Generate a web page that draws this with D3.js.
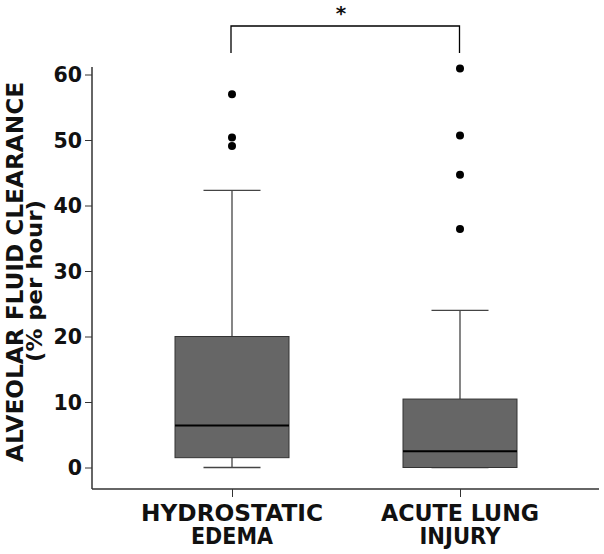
<!DOCTYPE html>
<html><head><meta charset="utf-8">
<script src="https://cdn.jsdelivr.net/npm/d3@7"></script>
<style>
body{margin:0;background:#fff;}
text{font-family:"DejaVu Sans",sans-serif;font-weight:bold;fill:#111;}
</style></head>
<body><svg id="c" width="604" height="554"></svg>
<script>
const categories = ["HYDROSTATIC|EDEMA", "ACUTE LUNG|INJURY"];
const whiskerLow = [0, 0];
const q1 = [1.5, 0];
const median = [6.4, 2.5];
const q3 = [20, 10.45];
const whiskerHigh = [42.3, 24.0];
const outliers = [[57.0, 50.4, 49.1], [60.9, 50.7, 44.7, 36.4]];
const yTicks = [0, 10, 20, 30, 40, 50, 60];
const yTitle = ["ALVEOLAR FLUID CLEARANCE", "(% per hour)"];
const sigLabel = "*";

const svg = d3.select("#c");
const y = d3.scaleLinear().domain([0, 60]).range([467.5, 74.5]);
const x = d3.scalePoint().domain(categories).range([232, 460]);
const boxW = 114, capW = 57;
const axisX = 92, axisY = 489;

// fits a text element to a target pixel width
function fit(sel, w) {
  sel.attr("textLength", w).attr("lengthAdjust", "spacingAndGlyphs");
  return sel;
}

// axes lines
svg.append("line").attr("x1", axisX).attr("x2", axisX).attr("y1", 67).attr("y2", axisY)
  .attr("stroke", "#333").attr("stroke-width", 1.5);
svg.append("line").attr("x1", axisX).attr("x2", 599).attr("y1", axisY).attr("y2", axisY)
  .attr("stroke", "#333").attr("stroke-width", 1.5);

const yAxis = d3.axisLeft(y).tickValues(yTicks).tickSize(7).tickPadding(3);
const gy = svg.append("g").attr("transform", `translate(${axisX},0)`).call(yAxis);
gy.select(".domain").remove();
gy.selectAll(".tick line").attr("stroke", "#333");
gy.selectAll(".tick text").attr("font-size", 20.5).attr("dy", "0.36em").attr("fill", "#111");

const xAxis = d3.axisBottom(x).tickSize(8).tickFormat("");
const gx = svg.append("g").attr("transform", `translate(0,${axisY})`).call(xAxis);
gx.select(".domain").remove();
gx.selectAll(".tick line").attr("stroke", "#333");

// category labels (two lines each)
const labelWidths = [[182, 82], [158, 81]];
categories.forEach((c, i) => {
  const lines = c.split("|");
  lines.forEach((l, j) => {
    fit(svg.append("text").attr("text-anchor", "middle").attr("font-size", 22.5)
      .attr("x", x(c)).attr("y", 521 + j * 23).text(l), labelWidths[i][j]);
  });
});

// y title
fit(svg.append("text").attr("text-anchor", "middle").attr("font-size", 23)
  .attr("transform", "translate(23,272) rotate(-90)").text(yTitle[0]), 380);
fit(svg.append("text").attr("text-anchor", "middle").attr("font-size", 21)
  .attr("transform", "translate(41.5,281) rotate(-90)").text(yTitle[1]), 162);

// boxes
categories.forEach((c, i) => {
  const cx = x(c);
  const g = svg.append("g");
  const ws = { stroke: "#444", w: 1.3 };
  g.append("line").attr("x1", cx).attr("x2", cx).attr("y1", y(whiskerHigh[i])).attr("y2", y(q3[i]))
    .attr("stroke", ws.stroke).attr("stroke-width", ws.w);
  g.append("line").attr("x1", cx).attr("x2", cx).attr("y1", y(q1[i])).attr("y2", y(whiskerLow[i]))
    .attr("stroke", ws.stroke).attr("stroke-width", ws.w);
  g.append("line").attr("x1", cx - capW / 2).attr("x2", cx + capW / 2)
    .attr("y1", y(whiskerHigh[i])).attr("y2", y(whiskerHigh[i])).attr("stroke", ws.stroke).attr("stroke-width", ws.w);
  g.append("line").attr("x1", cx - capW / 2).attr("x2", cx + capW / 2)
    .attr("y1", y(whiskerLow[i])).attr("y2", y(whiskerLow[i])).attr("stroke", ws.stroke).attr("stroke-width", ws.w);
  g.append("rect").attr("x", cx - boxW / 2).attr("width", boxW)
    .attr("y", y(q3[i])).attr("height", y(q1[i]) - y(q3[i]))
    .attr("fill", "#666").attr("stroke", "#333").attr("stroke-width", 1);
  g.append("line").attr("x1", cx - boxW / 2).attr("x2", cx + boxW / 2)
    .attr("y1", y(median[i])).attr("y2", y(median[i])).attr("stroke", "#000").attr("stroke-width", 2);
  g.selectAll("circle").data(outliers[i]).join("circle")
    .attr("cx", cx).attr("cy", d => y(d)).attr("r", 4).attr("fill", "#000");
});

// significance bracket
const bx1 = x(categories[0]) - 1, bx2 = x(categories[1]) - 0.5;
svg.append("path").attr("d", `M${bx1},53V26H${bx2}V53`).attr("fill", "none")
  .attr("stroke", "#000").attr("stroke-width", 1.3);
svg.append("text").attr("x", 341).attr("y", 20).attr("text-anchor", "middle")
  .attr("font-size", 20).text(sigLabel);
</script></body></html>
